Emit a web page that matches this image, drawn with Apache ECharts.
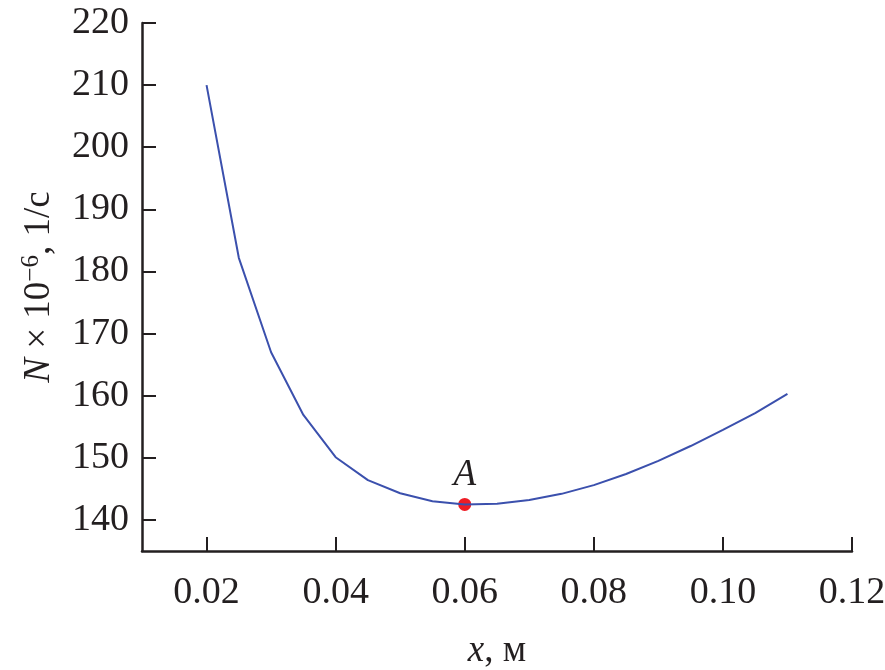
<!DOCTYPE html>
<html><head><meta charset="utf-8">
<script src="https://cdn.jsdelivr.net/npm/echarts@6/dist/echarts.min.js"></script>
<style>html,body{margin:0;padding:0;background:#fff}#c{width:885px;height:670px}</style>
</head><body><div id="c"></div>
<script>
var xValues = [0.020, 0.025, 0.030, 0.035, 0.040, 0.045, 0.050, 0.055, 0.060, 0.065, 0.070, 0.075, 0.080, 0.085, 0.090, 0.095, 0.100, 0.105, 0.110];
var nValues = [210.0, 182.2, 167.0, 156.9, 150.1, 146.4, 144.3, 143.0, 142.5, 142.6, 143.2, 144.2, 145.6, 147.4, 149.5, 151.9, 154.5, 157.2, 160.3];
var pointA = [0.06, 142.5];
var pointALabel = 'A';
var xTicks = [0.02, 0.04, 0.06, 0.08, 0.10, 0.12];
var yTicks = [140, 150, 160, 170, 180, 190, 200, 210, 220];

var ink = '#231f20';
var serif = '"Liberation Serif", "DejaVu Serif", serif';
var chart = echarts.init(document.getElementById('c'));
chart.setOption({
  animation: false,
  grid: {left: 142, right: 33, top: 23, bottom: 119, outerBoundsMode: 'none', containLabel: false},
  xAxis: {
    type: 'value', min: 0.01, max: 0.12,
    name: '{i|x}{n|, м}', nameLocation: 'middle', nameGap: 82,
    nameTextStyle: {rich: {i: {fontFamily: serif, fontStyle: 'italic', fontSize: 37, color: ink}, n: {fontFamily: serif, fontSize: 37, color: ink}}},
    axisLine: {show: true, lineStyle: {color: ink, width: 2.5}},
    axisTick: {show: true, inside: true, length: 14, lineStyle: {color: ink, width: 2}, customValues: xTicks},
    axisLabel: {customValues: xTicks, margin: 23, fontFamily: serif, fontSize: 38, color: ink,
      formatter: function (v) { return v.toFixed(2); }},
    splitLine: {show: false}
  },
  yAxis: {
    type: 'value', min: 135, max: 220,
    name: '{i|N}{n| × 10}{s|−6}{n|, 1/с}', nameLocation: 'middle', nameGap: 82,
    nameTextStyle: {rich: {
      i: {fontFamily: serif, fontStyle: 'italic', fontSize: 37, color: ink},
      n: {fontFamily: serif, fontSize: 37, color: ink},
      s: {fontFamily: serif, fontSize: 25, color: ink, verticalAlign: 'top', padding: [0, 0, 16, 0]}
    }},
    axisLine: {show: true, lineStyle: {color: ink, width: 2.5}},
    axisTick: {show: true, inside: true, length: 14, lineStyle: {color: ink, width: 2}, customValues: yTicks},
    axisLabel: {customValues: yTicks, margin: 13, fontFamily: serif, fontSize: 38, color: ink},
    splitLine: {show: false}
  },
  series: [
    {type: 'line', data: xValues.map(function (x, i) { return [x, nValues[i]]; }),
      showSymbol: false, symbol: 'none', smooth: false,
      lineStyle: {color: '#3b50ad', width: 2}},
    {type: 'scatter', data: [pointA], symbolSize: 13, itemStyle: {color: '#ee1c25', opacity: 1},
      label: {show: true, position: 'top', distance: 4, formatter: pointALabel,
        fontFamily: serif, fontStyle: 'italic', fontSize: 37, color: ink}}
  ]
});
</script></body></html>
